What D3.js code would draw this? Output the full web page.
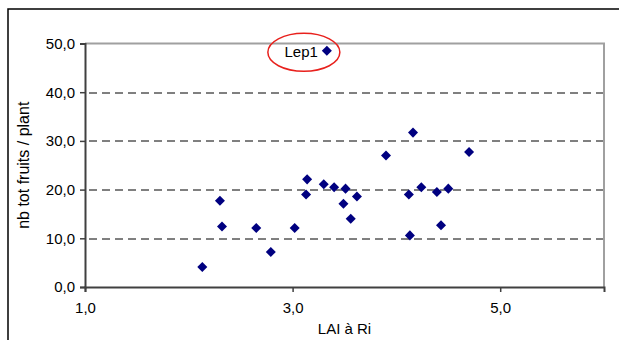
<!DOCTYPE html>
<html>
<head>
<meta charset="utf-8">
<script src="https://cdn.jsdelivr.net/npm/d3@7"></script>
<style>
  body { margin: 0; background: #fff; }
  svg text { font-family: Arial, "Liberation Sans", sans-serif; fill: #000; }
</style>
</head>
<body>
<div id="chart"></div>
<script>
// LAI at Ri vs total fruits per plant
var laiValues    = [2.13, 2.30, 2.32, 2.65, 2.79, 3.02, 3.13, 3.14, 3.30, 3.40, 3.51, 3.49,
                    3.56, 3.62, 3.90, 4.12, 4.16, 4.13, 4.24, 4.39, 4.43, 4.50, 4.70];
var fruitValues  = [4.1, 17.7, 12.4, 12.1, 7.2, 12.1, 19.0, 22.1, 21.1, 20.5, 20.2, 17.1,
                    14.0, 18.6, 27.0, 19.0, 31.7, 10.6, 20.5, 19.5, 12.7, 20.2, 27.7];
var outlierName  = ["Lep1"];
var outlierLai   = [3.33];
var outlierFruit = [48.5];
var xTicks = [1, 3, 5];
var yTicks = [0, 10, 20, 30, 40, 50];
var gridTicks = [10, 20, 30, 40];

var W = 619, H = 340;
var margin = {top: 43.5, right: 15, bottom: 53, left: 85},
    w = W - margin.left - margin.right,
    h = H - margin.top - margin.bottom;
var fontSize = 15;

var fmt = function(d) { return d3.format(".1f")(d).replace(".", ","); };

var svg = d3.select("#chart")
            .append("svg")
            .attr("width", W)
            .attr("height", H);

/***Outer chart border***/
svg.append("rect")
   .attr("x", 8).attr("y", 9)
   .attr("width", 640).attr("height", 360)
   .attr("fill", "none")
   .attr("stroke", "#000")
   .attr("stroke-width", 1.5);

var g = svg.append("g")
           .attr("transform", "translate(" + margin.left + "," + margin.top + ")");

/***Scales***/
var xScale = d3.scaleLinear().domain([1, 6]).range([0, w]);
var yScale = d3.scaleLinear().domain([0, 50]).range([h, 0]);

/***Grid lines***/
g.selectAll(".grid")
 .data(gridTicks)
 .enter()
 .append("line")
 .attr("class", "grid")
 .attr("x1", 4).attr("x2", w)
 .attr("y1", function(d) { return Math.round(yScale(d)) + 0.5; })
 .attr("y2", function(d) { return Math.round(yScale(d)) + 0.5; })
 .attr("stroke", "#000")
 .attr("stroke-width", 1)
 .attr("stroke-dasharray", "8,5");

/***Plot frame top / right***/
g.append("path")
 .attr("d", "M0," + yScale(50) + "H" + w + "V" + h)
 .attr("fill", "none")
 .attr("stroke", "#a0a0a0")
 .attr("stroke-width", 2);

/***Axes***/
var xAxis = d3.axisBottom(xScale).tickValues(xTicks).tickSize(5).tickFormat(fmt);
var yAxis = d3.axisLeft(yScale).tickValues(yTicks).tickSize(5).tickFormat(fmt);

var gx = g.append("g")
          .attr("transform", "translate(0," + h + ")")
          .call(xAxis);
var gy = g.append("g").call(yAxis);

[gx, gy].forEach(function(a) {
  a.select(".domain").attr("stroke", "#404040").attr("stroke-width", 2);
  a.selectAll(".tick line").attr("stroke", "#404040").attr("stroke-width", 1.5);
  a.selectAll(".tick text").attr("font-size", fontSize).attr("fill", "#000")
   .attr("font-family", "Arial, 'Liberation Sans', sans-serif");
});
gx.selectAll(".tick text").attr("dy", "1.2em");
gy.selectAll(".tick text").attr("x", -10);

/***Axis titles***/
svg.append("text")
   .attr("x", margin.left + w / 2)
   .attr("y", 334)
   .attr("text-anchor", "middle")
   .attr("font-size", fontSize)
   .text("LAI à Ri");

svg.append("text")
   .attr("transform", "translate(29," + (margin.top + h / 2) + ") rotate(-90)")
   .attr("text-anchor", "middle")
   .attr("font-size", 16)
   .text("nb tot fruits / plant");

/***Points***/
var diamond = d3.symbol().type(d3.symbolDiamond2).size(64);
var pts = laiValues.map(function(v, i) { return [v, fruitValues[i]]; })
                   .concat(outlierLai.map(function(v, i) { return [v, outlierFruit[i]]; }));

g.selectAll(".pt")
 .data(pts)
 .enter()
 .append("path")
 .attr("class", "pt")
 .attr("d", diamond)
 .attr("transform", function(d) { return "translate(" + xScale(d[0]) + "," + yScale(d[1]) + ")"; })
 .attr("fill", "#000080");

/***Outlier label + red ellipse***/
outlierName.forEach(function(name, i) {
  var px = xScale(outlierLai[i]), py = yScale(outlierFruit[i]);
  g.append("text")
   .attr("x", px - 9)
   .attr("y", py + 6)
   .attr("text-anchor", "end")
   .attr("font-size", fontSize)
   .text(name);
  g.append("ellipse")
   .attr("cx", px - 23)
   .attr("cy", py + 1.5)
   .attr("rx", 36)
   .attr("ry", 19)
   .attr("fill", "none")
   .attr("stroke", "#e8201c")
   .attr("stroke-width", 1.5);
});
</script>
</body>
</html>
